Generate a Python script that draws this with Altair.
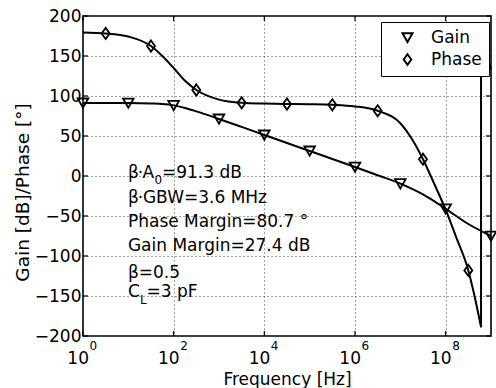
import altair as alt
import pandas as pd

FONT = "DejaVu Sans"

# ---------------- data ----------------
gain_freq = [1, 3.16, 10, 31.6, 56.2, 100, 178, 316, 1e3, 3.16e3, 1e4, 3.16e4,
             1e5, 3.16e5, 1e6, 3.16e6, 1e7, 3.16e7, 1e8, 3.16e8, 1e9]
gain_db = [91.3, 91.3, 91.2, 90.6, 90.0, 88.3, 85.0, 80.8, 71.3, 61.4, 51.3, 41.3,
           31.3, 21.3, 11.2, 1.0, -9.5, -23.0, -41.0, -60.0, -75.0]

phase_freq = [1, 3.16, 10, 31.6, 56.2, 100, 178, 316, 1e3, 3.16e3, 1e4, 3.16e4,
              1e5, 3.16e5, 1e6, 3.16e6, 1e7, 1.86e7, 3.16e7, 5.62e7, 1e8, 1.72e8,
              3.16e8, 4.37e8, 6.03e8]
phase_deg = [179.4, 178.2, 174.3, 162.5, 150.0, 135.0, 119.0, 107.5, 95.5, 91.5, 90.5, 90.0,
             89.7, 89.0, 87.0, 81.5, 66.0, 45.0, 21.0, -10.0, -42.0, -77.0,
             -118.0, -151.0, -189.0]

# phase wrap (jump from -180 to +180 and continuation)
wrap_freq = [6.03e8, 6.03e8, 7.6e8, 9.33e8, 1e9]
wrap_deg = [-189.0, 172.0, 157.0, 139.0, 133.0]

gain_mk_freq = [1, 10, 100, 1e3, 1e4, 1e5, 1e6, 1e7, 1e8, 1e9]
gain_mk_db = [91.3, 91.2, 88.3, 71.3, 51.3, 31.3, 11.2, -9.5, -41.0, -75.0]
phase_mk_freq = [3.16, 31.6, 316, 3.16e3, 3.16e4, 3.16e5, 3.16e6, 3.16e7, 3.16e8]
phase_mk_deg = [178.2, 162.5, 107.5, 91.5, 90.0, 89.0, 81.5, 21.0, -118.0]

series_names = ["Gain", "Phase"]

x_tick_vals = [1, 100, 1e4, 1e6, 1e8]
x_tick_base = ["10", "10", "10", "10", "10"]
x_tick_exp = ["0", "2", "4", "6", "8"]
y_tick_vals = [-200, -150, -100, -50, 0, 50, 100, 150, 200]

ann_x = 9.8
line_y = [-2.5, -33.75, -63.75, -93.75, -127.0, -151.0]
plain_text = ["Phase Margin=80.7 °", "Gain Margin=27.4 dB", "β=0.5"]
plain_y = [line_y[2], line_y[3], line_y[4]]

# ---------------- tables ----------------
curve_df = pd.concat([
    pd.DataFrame({"f": gain_freq, "v": gain_db, "s": "Gain"}),
    pd.DataFrame({"f": phase_freq, "v": phase_deg, "s": "Phase"}),
])
wrap_df = pd.DataFrame({"f": wrap_freq, "v": wrap_deg, "i": list(range(len(wrap_freq)))})
mk_df = pd.concat([
    pd.DataFrame({"f": gain_mk_freq, "v": gain_mk_db, "s": "Gain"}),
    pd.DataFrame({"f": phase_mk_freq, "v": phase_mk_deg, "s": "Phase"}),
])
xt_df = pd.DataFrame({"f": x_tick_vals, "b": x_tick_base, "e": x_tick_exp})
yt_df = pd.DataFrame({"v": y_tick_vals})

W, H = 408, 320

xs = alt.Scale(type="log", domain=[1, 1e9], nice=False)
ys = alt.Scale(domain=[-200, 200], nice=False, zero=False)

X = alt.X("f:Q", scale=xs, axis=alt.Axis(
    values=x_tick_vals, labels=False, ticks=False, domain=False, grid=True,
    gridDash=[1, 3], gridColor="#444", gridWidth=1,
    title="Frequency [Hz]", titleX=W / 2, titleY=48, titleAlign="center",
    titleBaseline="alphabetic", titleFont=FONT, titleFontSize=17,
    titleFontWeight="normal", titleColor="black"))
Y = alt.Y("v:Q", scale=ys, axis=alt.Axis(
    values=y_tick_vals, ticks=False, domain=False, grid=True,
    gridDash=[1, 3], gridColor="#444", gridWidth=1,
    labelFont=FONT, labelFontSize=17, labelColor="black", labelPadding=2,
    title="Gain [dB]/Phase [°]", titleX=-61, titleY=176, titleAngle=270,
    titleAlign="center", titleBaseline="middle", titleFont=FONT,
    titleFontSize=18.5, titleFontWeight="normal", titleColor="black"))

tri = "M-0.95,-0.8L0.95,-0.8L0,0.85Z"
dia = "M0,-1L0.72,0L0,1L-0.72,0Z"

lines = alt.Chart(curve_df).mark_line(color="black", strokeWidth=2, interpolate="monotone").encode(
    x=X, y=Y, detail="s:N")
wrap = alt.Chart(wrap_df).mark_line(color="black", strokeWidth=2).encode(
    x=X, y=Y, order="i:Q")
points = alt.Chart(mk_df).mark_point(filled=False, color="black", strokeWidth=1.8, size=125, opacity=1).encode(
    x=X, y=Y,
    shape=alt.Shape("s:N", scale=alt.Scale(domain=series_names, range=[tri, dia]),
                    legend=alt.Legend(title=None, orient="none", legendX=298, legendY=6,
                                      direction="vertical", strokeColor="black",
                                      fillColor="white", padding=7, labelFont=FONT,
                                      labelFontSize=17, labelColor="black",
                                      symbolSize=110, symbolStrokeWidth=2,
                                      symbolStrokeColor="black", symbolFillColor="white",
                                      symbolOffset=11, labelOffset=15, rowPadding=4,
                                      cornerRadius=0)))


def txt(texts, ys_, dx=0, dy=0, size=17, align="left"):
    df = pd.DataFrame({"f": [ann_x] * len(texts), "v": ys_, "t": texts})
    return alt.Chart(df).mark_text(font=FONT, fontSize=size, color="black", align=align,
                                   baseline="alphabetic", dx=dx, dy=dy).encode(
        x=X, y=Y, text="t:N")


ann = [
    txt(["β", "β"], [line_y[0], line_y[1]]),
    txt(["·", "·"], [line_y[0], line_y[1]], dx=12.5, align="center"),
    txt(["A"], [line_y[0]], dx=14.5),
    txt(["0"], [line_y[0]], dx=26.5, dy=6, size=12),
    txt(["=91.3 dB"], [line_y[0]], dx=34),
    txt(["GBW=3.6 MHz"], [line_y[1]], dx=15),
    txt(plain_text, plain_y),
    txt(["C"], [line_y[5]]),
    txt(["L"], [line_y[5]], dx=12, dy=7, size=12),
    txt(["=3 pF"], [line_y[5]], dx=18.5),
]

xbase = alt.Chart(xt_df).mark_text(font=FONT, fontSize=17, color="black", align="right",
                                   baseline="alphabetic", dx=6).encode(
    x=X, y=alt.value(348), text="b:N")
xexp = alt.Chart(xt_df).mark_text(font=FONT, fontSize=12, color="black", align="left",
                                  baseline="alphabetic", dx=6.5).encode(
    x=X, y=alt.value(334), text="e:N")

tk = dict(color="black", strokeWidth=1.2)
t_left = alt.Chart(yt_df).mark_rule(**tk).encode(y=Y, x=alt.value(0), x2=alt.value(5))
t_right = alt.Chart(yt_df).mark_rule(**tk).encode(y=Y, x=alt.value(W - 5), x2=alt.value(W))
t_bot = alt.Chart(xt_df).mark_rule(**tk).encode(x=X, y=alt.value(H - 5), y2=alt.value(H))
t_top = alt.Chart(xt_df).mark_rule(**tk).encode(x=X, y=alt.value(0), y2=alt.value(5))

chart = alt.layer(
    lines, wrap, points, *ann, xbase, xexp, t_left, t_right, t_bot, t_top
).properties(
    width=W, height=H,
    padding={"left": 83, "top": 16, "right": 5, "bottom": 52},
    autosize=alt.AutoSizeParams(type="none"),
    background="white",
).configure_view(stroke="black", strokeWidth=1.6)

chart.save("out.html", embed_options={"renderer": "svg", "actions": False})
